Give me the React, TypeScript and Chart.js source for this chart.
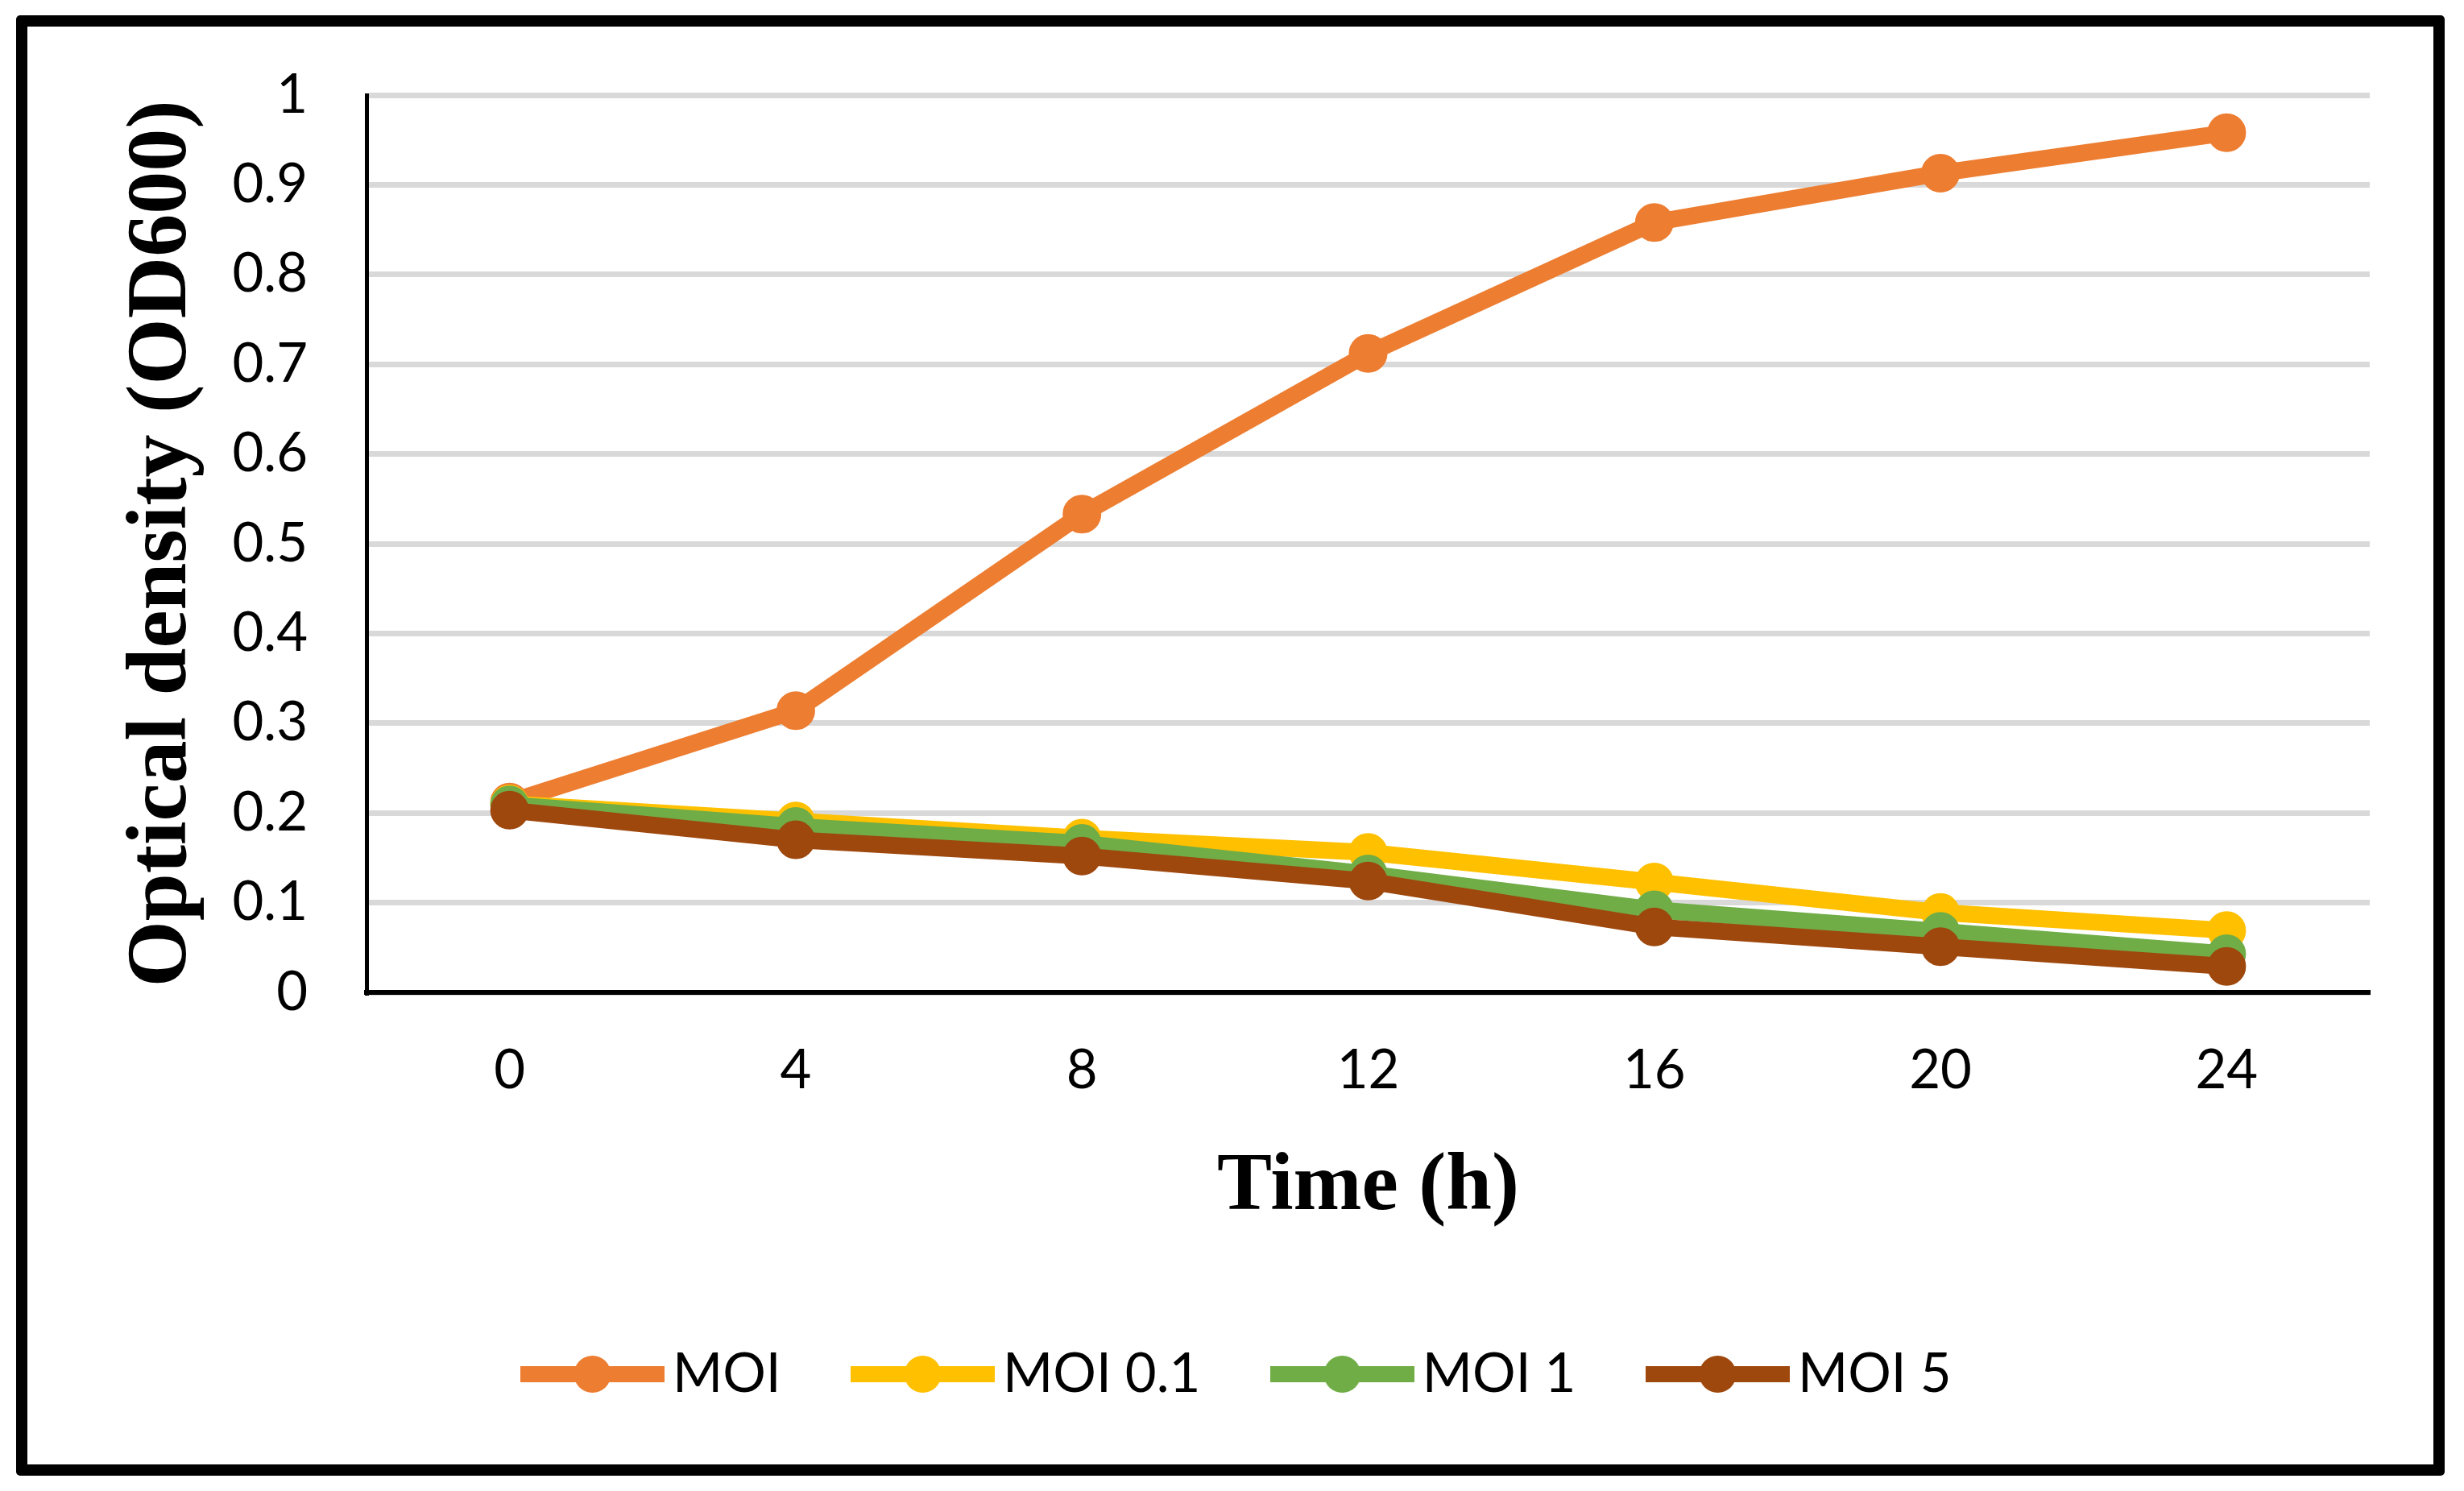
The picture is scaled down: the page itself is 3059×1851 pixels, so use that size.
import React, { useEffect, useRef } from 'react';
import { Chart, registerables } from 'chart.js';

Chart.register(...registerables);

// time points (h)
const hours = ['0', '4', '8', '12', '16', '20', '24'];

// optical density readings per condition
const moiControl = [0.212, 0.314, 0.533, 0.712, 0.858, 0.913, 0.958];
const moi01 = [0.21, 0.191, 0.172, 0.156, 0.123, 0.089, 0.069];
const moi1 = [0.209, 0.185, 0.166, 0.132, 0.092, 0.068, 0.043];
const moi5 = [0.203, 0.17, 0.152, 0.124, 0.073, 0.051, 0.029];

const seriesNames = ['MOI', 'MOI 0.1', 'MOI 1', 'MOI 5'];
const seriesColors = ['#ED7D31', '#FFC000', '#70AD47', '#9E480E'];

const tickFont = { family: 'Lato, "Open Sans", sans-serif', size: 67 };
const titleFont = { family: '"Liberation Serif", "DejaVu Serif", serif', weight: 'bold' as const };

// line + marker swatch for the legend
function legendIcon(color: string) {
  const c = document.createElement('canvas');
  c.width = 179;
  c.height = 48;
  const ctx = c.getContext('2d');
  if (ctx) {
    ctx.fillStyle = color;
    ctx.fillRect(0, 14, 179, 20);
    ctx.beginPath();
    ctx.arc(89.5, 24, 23, 0, Math.PI * 2);
    ctx.fill();
  }
  return c;
}

const App: React.FC = () => {
  const chartRef = useRef<HTMLCanvasElement>(null);

  useEffect(() => {
    const ctx = chartRef.current?.getContext('2d');
    if (!ctx) {
      return;
    }
    const icons = seriesColors.map(legendIcon);
    const values = [moiControl, moi01, moi1, moi5];

    const chart = new Chart(ctx, {
      type: 'line',
      data: {
        labels: hours,
        datasets: values.map((v, i) => ({
          label: seriesNames[i],
          data: v,
          borderColor: seriesColors[i],
          backgroundColor: seriesColors[i],
          pointBackgroundColor: seriesColors[i],
          pointBorderColor: seriesColors[i],
          borderWidth: 21,
          pointRadius: 23,
          pointBorderWidth: 2,
          pointHoverRadius: 23,
          tension: 0,
          order: 3 - i,
        })),
      },
      options: {
        animation: false,
        responsive: true,
        maintainAspectRatio: false,
        layout: {
          padding: { left: 116, right: 79, top: 85, bottom: 68.5 },
        },
        plugins: {
          tooltip: { enabled: false },
          legend: {
            position: 'bottom',
            labels: {
              usePointStyle: true,
              pointStyleWidth: 132,
              padding: 110,
              color: '#000',
              font: tickFont,
              generateLabels: (c: Chart) => {
                const items = Chart.defaults.plugins.legend.labels.generateLabels(c);
                items.sort((a, b) => (a.datasetIndex ?? 0) - (b.datasetIndex ?? 0));
                items.forEach((it) => {
                  it.pointStyle = icons[it.datasetIndex ?? 0];
                });
                return items;
              },
            },
          },
        },
        scales: {
          x: {
            type: 'category',
            offset: true,
            grid: { display: false, drawTicks: false },
            border: { display: true, color: '#000', width: 6 },
            ticks: { color: '#000', font: tickFont, padding: 57, maxRotation: 0 },
            title: {
              display: true,
              text: 'Time (h)',
              color: '#000',
              font: { ...titleFont, size: 102 },
              padding: { top: 0, bottom: 26.6 },
            },
            afterFit: (scale) => {
              scale.height = 330.5;
            },
          },
          y: {
            min: 0,
            max: 1,
            grid: {
              color: '#D9D9D9',
              lineWidth: 7,
              drawTicks: true,
              tickLength: 73,
              tickColor: 'rgba(0,0,0,0)',
            },
            border: { display: true, color: '#000', width: 5 },
            ticks: {
              stepSize: 0.1,
              color: '#000',
              font: tickFont,
              padding: 0,
              callback: (v) => String(Math.round(Number(v) * 10) / 10),
            },
            title: {
              display: true,
              text: 'Optical density (OD600)',
              color: '#000',
              font: { ...titleFont, size: 106, lineHeight: 1 },
              padding: { top: 0, bottom: 0 },
            },
            afterFit: (scale) => {
              scale.width = 305;
            },
          },
        },
      },
    });
    return () => {
      chart.destroy();
    };
  }, []);

  return (
    <div
      style={{
        position: 'absolute',
        left: 20,
        top: 19,
        width: 3015,
        height: 1813,
        border: '14px solid #000',
        borderRadius: 5,
        boxSizing: 'border-box',
        background: '#fff',
      }}
    >
      <div style={{ position: 'relative', width: 2987, height: 1785 }}>
        <canvas ref={chartRef}></canvas>
      </div>
    </div>
  );
};

export default App;
